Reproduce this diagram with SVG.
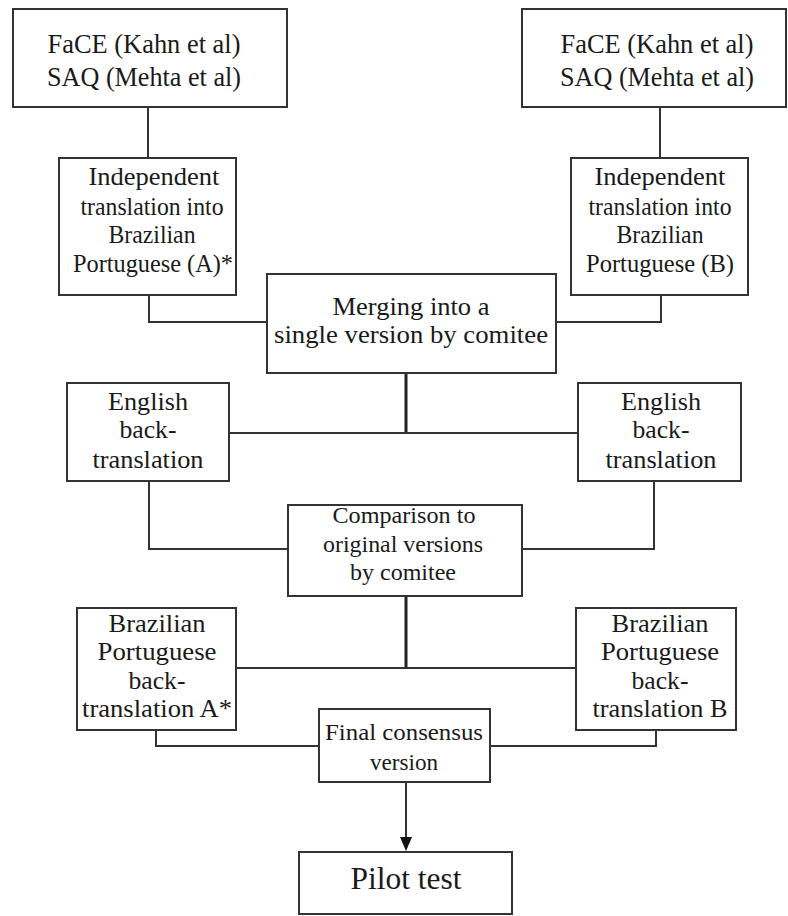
<svg xmlns="http://www.w3.org/2000/svg" width="788" height="916" viewBox="0 0 788 916">
<defs>
<style>
.box{fill:#fff;stroke:#333;stroke-width:2}
.t{font-family:"Liberation Serif","Times New Roman",serif;font-size:26px;fill:#1a1a1a;text-anchor:middle}
.s{font-size:24px}
.p{font-size:31px}
.f{font-size:28px}
.ln{fill:none;stroke:#333;stroke-width:2}
.thk{fill:none;stroke:#222;stroke-width:3}
</style>
</defs>
<rect width="788" height="916" fill="#fff"/>
<g id="connectors">
<path class="ln" d="M148,107 V158"/>
<path class="ln" d="M660,107 V158"/>
<path class="ln" d="M149,295 V322 H267"/>
<path class="ln" d="M661,295 V322 H556"/>
<path class="thk" d="M406,373 V433"/>
<path class="ln" d="M229,433 H578"/>
<path class="ln" d="M149,481 V549 H288"/>
<path class="ln" d="M654,481 V549 H522"/>
<path class="thk" d="M406,596 V668"/>
<path class="ln" d="M236,668 H576"/>
<path class="ln" d="M156,730 V746 H319"/>
<path class="ln" d="M656,730 V746 H490"/>
<path class="ln" d="M406,782 V838"/>
<path d="M400,837 L412,837 L406,851 z" fill="#111"/>
</g>
<g id="n-face-a">
<rect class="box" x="13" y="9" width="274" height="98"/>
<text class="t f" x="144" y="53" textLength="193" lengthAdjust="spacingAndGlyphs">FaCE (Kahn et al)</text>
<text class="t f" x="144" y="86" textLength="194" lengthAdjust="spacingAndGlyphs">SAQ (Mehta et al)</text>
</g>
<g id="n-face-b">
<rect class="box" x="522" y="9" width="264" height="98"/>
<text class="t f" x="657" y="53" textLength="193" lengthAdjust="spacingAndGlyphs">FaCE (Kahn et al)</text>
<text class="t f" x="657" y="86" textLength="194" lengthAdjust="spacingAndGlyphs">SAQ (Mehta et al)</text>
</g>
<g id="n-trans-a">
<rect class="box" x="59" y="158" width="177" height="137"/>
<text class="t" x="154" y="185" textLength="131" lengthAdjust="spacingAndGlyphs">Independent</text>
<text class="t" x="152" y="215" textLength="143" lengthAdjust="spacingAndGlyphs">translation into</text>
<text class="t" x="152" y="243" textLength="87" lengthAdjust="spacingAndGlyphs">Brazilian</text>
<text class="t" x="153" y="272" textLength="160" lengthAdjust="spacingAndGlyphs">Portuguese (A)*</text>
</g>
<g id="n-trans-b">
<rect class="box" x="571" y="158" width="177" height="137"/>
<text class="t" x="660" y="185" textLength="131" lengthAdjust="spacingAndGlyphs">Independent</text>
<text class="t" x="660" y="215" textLength="143" lengthAdjust="spacingAndGlyphs">translation into</text>
<text class="t" x="660" y="243" textLength="87" lengthAdjust="spacingAndGlyphs">Brazilian</text>
<text class="t" x="660" y="272" textLength="148" lengthAdjust="spacingAndGlyphs">Portuguese (B)</text>
</g>
<g id="n-merge">
<rect class="box" x="267" y="274" width="289" height="99"/>
<text class="t" x="411" y="315" textLength="157" lengthAdjust="spacingAndGlyphs">Merging into a</text>
<text class="t" x="411" y="343" textLength="274" lengthAdjust="spacingAndGlyphs">single version by comitee</text>
</g>
<g id="n-eng-a">
<rect class="box" x="67" y="383" width="162" height="98"/>
<text class="t" x="148" y="410" textLength="80" lengthAdjust="spacingAndGlyphs">English</text>
<text class="t" x="148" y="438" textLength="57" lengthAdjust="spacingAndGlyphs">back-</text>
<text class="t" x="148" y="468" textLength="111" lengthAdjust="spacingAndGlyphs">translation</text>
</g>
<g id="n-eng-b">
<rect class="box" x="578" y="383" width="163" height="98"/>
<text class="t" x="661" y="410" textLength="80" lengthAdjust="spacingAndGlyphs">English</text>
<text class="t" x="661" y="438" textLength="57" lengthAdjust="spacingAndGlyphs">back-</text>
<text class="t" x="661" y="468" textLength="111" lengthAdjust="spacingAndGlyphs">translation</text>
</g>
<g id="n-compare">
<rect class="box" x="288" y="505" width="234" height="91"/>
<text class="t s" x="404" y="523" textLength="143" lengthAdjust="spacingAndGlyphs">Comparison to</text>
<text class="t s" x="403" y="552" textLength="160" lengthAdjust="spacingAndGlyphs">original  versions</text>
<text class="t s" x="403" y="580" textLength="106" lengthAdjust="spacingAndGlyphs">by comitee</text>
</g>
<g id="n-braz-a">
<rect class="box" x="77" y="608" width="159" height="122"/>
<text class="t" x="157" y="632" textLength="97" lengthAdjust="spacingAndGlyphs">Brazilian</text>
<text class="t" x="157" y="660" textLength="119" lengthAdjust="spacingAndGlyphs">Portuguese</text>
<text class="t" x="157" y="689" textLength="57" lengthAdjust="spacingAndGlyphs">back-</text>
<text class="t" x="157" y="717" textLength="150" lengthAdjust="spacingAndGlyphs">translation A*</text>
</g>
<g id="n-braz-b">
<rect class="box" x="576" y="608" width="160" height="122"/>
<text class="t" x="660" y="632" textLength="97" lengthAdjust="spacingAndGlyphs">Brazilian</text>
<text class="t" x="660" y="660" textLength="118" lengthAdjust="spacingAndGlyphs">Portuguese</text>
<text class="t" x="660" y="689" textLength="57" lengthAdjust="spacingAndGlyphs">back-</text>
<text class="t" x="660" y="717" textLength="135" lengthAdjust="spacingAndGlyphs">translation B</text>
</g>
<g id="n-final">
<rect class="box" x="319" y="709" width="171" height="73"/>
<text class="t s" x="404" y="740" textLength="158" lengthAdjust="spacingAndGlyphs">Final consensus</text>
<text class="t s" x="404" y="770" textLength="68" lengthAdjust="spacingAndGlyphs">version</text>
</g>
<g id="n-pilot">
<rect class="box" x="299" y="852" width="213" height="62"/>
<text class="t p" x="406" y="889" textLength="111" lengthAdjust="spacingAndGlyphs">Pilot test</text>
</g>
</svg>
